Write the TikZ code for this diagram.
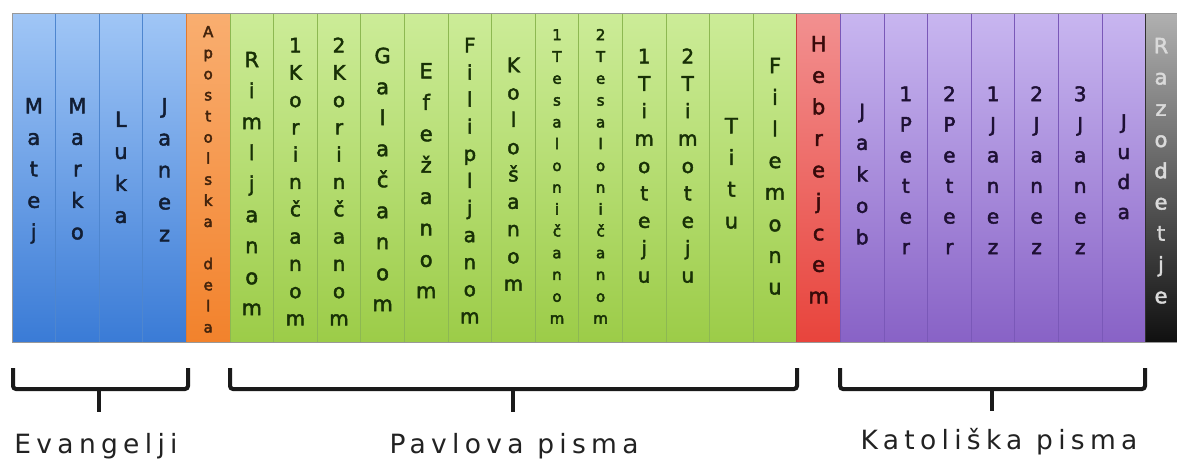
\documentclass[tikz,border=0pt]{standalone}
\usepackage{fontspec}
\setmainfont{DejaVu Sans}
\newfontfamily\colfont{DejaVu Sans}
\newfontfamily\labfont[LetterSpace=20]{DejaVu Sans}

\definecolor{bluetop}{HTML}{A0C6F6}
\definecolor{bluebot}{HTML}{3A7BD6}
\definecolor{bluediv}{HTML}{4E86CF}
\definecolor{bluetxt}{HTML}{121E34}
\definecolor{orgtop}{HTML}{F9AE70}
\definecolor{orgbot}{HTML}{F2822C}
\definecolor{orgdiv}{HTML}{E07A30}
\definecolor{orgtxt}{HTML}{44240C}
\definecolor{grntop}{HTML}{CCEC98}
\definecolor{grnbot}{HTML}{9CCC48}
\definecolor{grndiv}{HTML}{8DB852}
\definecolor{grntxt}{HTML}{183006}
\definecolor{redtop}{HTML}{F29090}
\definecolor{redbot}{HTML}{E8443C}
\definecolor{reddiv}{HTML}{C84040}
\definecolor{redtxt}{HTML}{380A0A}
\definecolor{purtop}{HTML}{C8B6F0}
\definecolor{purbot}{HTML}{8862C6}
\definecolor{purdiv}{HTML}{7A58B8}
\definecolor{purtxt}{HTML}{1E1034}
\definecolor{blktop}{HTML}{B0B0B0}
\definecolor{blkbot}{HTML}{101010}
\definecolor{blkdiv}{HTML}{303030}
\definecolor{blktxt}{HTML}{DADADA}
\definecolor{bracecol}{HTML}{1A1A1A}
\definecolor{labtxt}{HTML}{222222}

\newdimen\stkS
\newcommand\vstack[2]{\stkS=#1pt\relax\special{pdf:literal 2 Tr 0.45 w}\vbox{\offinterlineskip\foreach \ch in {#2}{\hbox to 0pt{\hss\vrule width 0pt height 0.7\stkS depth 0.3\stkS\relax\ch\hss}}}\special{pdf:literal 0 Tr}}

\tikzset{
  colbox/.style={rectangle, inner sep=0pt, minimum width=43.6pt, minimum height=329pt, line width=0.8pt},
  coltxt/.style={inner sep=0pt},
  bracepath/.style={draw=bracecol, line width=4pt, rounded corners=3pt},
  lab/.style={inner sep=0pt, anchor=base, text=labtxt, font=\labfont\fontsize{26.5}{26.5}\selectfont}
}

% name, index, top colour, bottom colour, divider colour
\newcommand\colbox[5]{\node[colbox, top color=#3, bottom color=#4, draw=#5] (#1) at ({12+(#2+0.5)*43.6}, 177.5) {};}
% name, x, mid y, spacing, font size, colour, letters
\newcommand\coltext[7]{\node[coltxt, text=#6, draw=none, font=\colfont\fontsize{#5}{#5}\selectfont] (#1) at (#2, #3) {\color{#6}\vstack{#4}{#7}};}

\begin{document}
\begin{tikzpicture}[x=1pt, y=-1pt]
\clip (0,0) rectangle (1177,459);
\fill[white] (0,0) rectangle (1177,459);

% columns
\colbox{c0}{0}{bluetop}{bluebot}{bluediv}
\colbox{c1}{1}{bluetop}{bluebot}{bluediv}
\colbox{c2}{2}{bluetop}{bluebot}{bluediv}
\colbox{c3}{3}{bluetop}{bluebot}{bluediv}
\colbox{c4}{4}{orgtop}{orgbot}{orgdiv}
\colbox{c5}{5}{grntop}{grnbot}{grndiv}
\colbox{c6}{6}{grntop}{grnbot}{grndiv}
\colbox{c7}{7}{grntop}{grnbot}{grndiv}
\colbox{c8}{8}{grntop}{grnbot}{grndiv}
\colbox{c9}{9}{grntop}{grnbot}{grndiv}
\colbox{c10}{10}{grntop}{grnbot}{grndiv}
\colbox{c11}{11}{grntop}{grnbot}{grndiv}
\colbox{c12}{12}{grntop}{grnbot}{grndiv}
\colbox{c13}{13}{grntop}{grnbot}{grndiv}
\colbox{c14}{14}{grntop}{grnbot}{grndiv}
\colbox{c15}{15}{grntop}{grnbot}{grndiv}
\colbox{c16}{16}{grntop}{grnbot}{grndiv}
\colbox{c17}{17}{grntop}{grnbot}{grndiv}
\colbox{c18}{18}{redtop}{redbot}{reddiv}
\colbox{c19}{19}{purtop}{purbot}{purdiv}
\colbox{c20}{20}{purtop}{purbot}{purdiv}
\colbox{c21}{21}{purtop}{purbot}{purdiv}
\colbox{c22}{22}{purtop}{purbot}{purdiv}
\colbox{c23}{23}{purtop}{purbot}{purdiv}
\colbox{c24}{24}{purtop}{purbot}{purdiv}
\colbox{c25}{25}{purtop}{purbot}{purdiv}
\colbox{c26}{26}{blktop}{blkbot}{blkdiv}
\draw[gray!80, line width=0.8pt] (12,13) rectangle (1200,342);

% column texts
\coltext{t0}{33.8}{170}{31.5}{21}{bluetxt}{M,a,t,e,j}
\coltext{t1}{77.4}{170}{31.5}{21}{bluetxt}{M,a,r,k,o}
\coltext{t2}{121}{168.5}{32}{21}{bluetxt}{L,u,k,a}
\coltext{t3}{164.6}{171}{32}{21}{bluetxt}{J,a,n,e,z}
\coltext{t4}{208.2}{180.5}{21.1}{15}{orgtxt}{A,p,o,s,t,o,l,s,k,a,{},d,e,l,a}
\coltext{t5}{251.8}{185}{31}{21}{grntxt}{R,i,m,l,j,a,n,o,m}
\coltext{t6}{295.4}{183.5}{27.3}{20}{grntxt}{1,K,o,r,i,n,č,a,n,o,m}
\coltext{t7}{339}{183.5}{27.3}{20}{grntxt}{2,K,o,r,i,n,č,a,n,o,m}
\coltext{t8}{382.6}{181}{31}{21}{grntxt}{G,a,l,a,č,a,n,o,m}
\coltext{t9}{426.2}{182}{31.4}{21}{grntxt}{E,f,e,ž,a,n,o,m}
\coltext{t10}{469.8}{182.5}{27.1}{20}{grntxt}{F,i,l,i,p,l,j,a,n,o,m}
\coltext{t11}{513.4}{176}{27.3}{20}{grntxt}{K,o,l,o,š,a,n,o,m}
\coltext{t12}{557}{177.5}{21.8}{15}{grntxt}{1,T,e,s,a,l,o,n,i,č,a,n,o,m}
\coltext{t13}{600.6}{177.5}{21.8}{15}{grntxt}{2,T,e,s,a,l,o,n,i,č,a,n,o,m}
\coltext{t14}{644.2}{167.5}{27.4}{20}{grntxt}{1,T,i,m,o,t,e,j,u}
\coltext{t15}{687.8}{167.5}{27.4}{20}{grntxt}{2,T,i,m,o,t,e,j,u}
\coltext{t16}{731.4}{174.5}{31.7}{21}{grntxt}{T,i,t,u}
\coltext{t17}{775}{177.5}{31.6}{21}{grntxt}{F,i,l,e,m,o,n,u}
\coltext{t18}{818.6}{171}{31.5}{21}{redtxt}{H,e,b,r,e,j,c,e,m}
\coltext{t19}{862.2}{175}{31.5}{20}{purtxt}{J,a,k,o,b}
\coltext{t20}{905.8}{171.5}{30.6}{20}{purtxt}{1,P,e,t,e,r}
\coltext{t21}{949.4}{171.5}{30.6}{20}{purtxt}{2,P,e,t,e,r}
\coltext{t22}{993}{171.5}{30.6}{20}{purtxt}{1,J,a,n,e,z}
\coltext{t23}{1036.6}{171.5}{30.6}{20}{purtxt}{2,J,a,n,e,z}
\coltext{t24}{1080.2}{171.5}{30.6}{20}{purtxt}{3,J,a,n,e,z}
\coltext{t25}{1123.8}{168}{30}{20}{purtxt}{J,u,d,a}
\coltext{t26}{1161}{172}{31.25}{21}{blktxt}{R,a,z,o,d,e,t,j,e}

% braces
\coordinate (eL) at (13,368);
\coordinate (eR) at (188,368);
\coordinate (eM) at (99,389);
\coordinate (eT) at (99,412);
\draw[bracepath] (eL) |- (eM) -| (eR);
\draw[bracepath] (eM) -- (eT);

\coordinate (pL) at (230,368);
\coordinate (pR) at (797,368);
\coordinate (pM) at (513,389);
\coordinate (pT) at (513,412);
\draw[bracepath] (pL) |- (pM) -| (pR);
\draw[bracepath] (pM) -- (pT);

\coordinate (kL) at (840,368);
\coordinate (kR) at (1145,368);
\coordinate (kM) at (992,389);
\coordinate (kT) at (992,411);
\draw[bracepath] (kL) |- (kM) -| (kR);
\draw[bracepath] (kM) -- (kT);

% labels
\node[lab] (evan) at (96,453) {Evangelji};
\node[lab] (pavl) at (514,453) {Pavlova pisma};
\node[lab] (kato) at (999,449) {Katoliška pisma};
\end{tikzpicture}
\end{document}
